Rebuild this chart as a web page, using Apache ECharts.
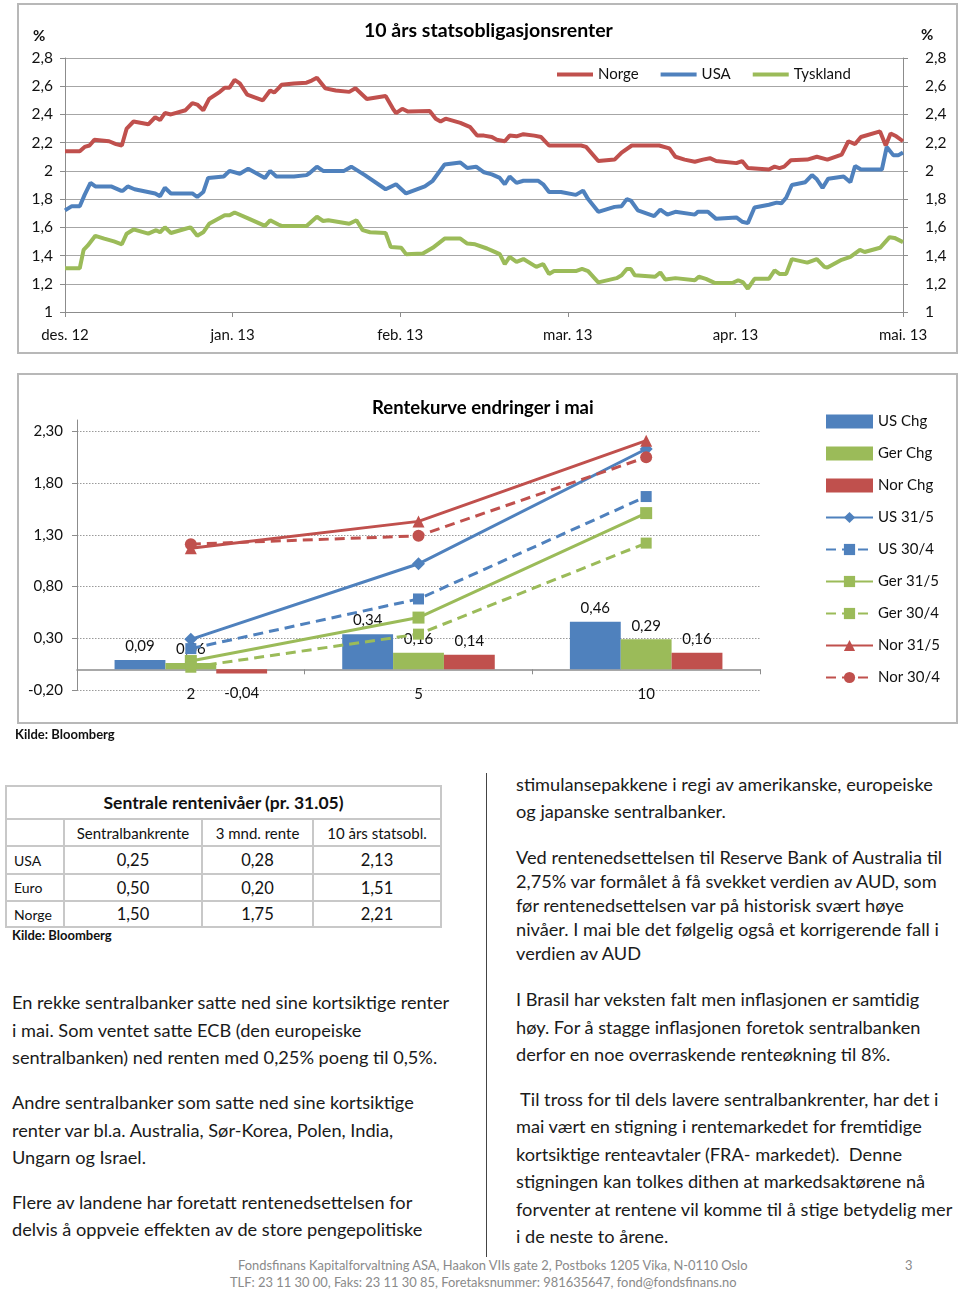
<!DOCTYPE html>
<html><head><meta charset="utf-8">
<script src="https://cdn.jsdelivr.net/npm/echarts@6/dist/echarts.min.js"></script>
<style>
body{margin:0;width:960px;height:1290px;background:#fff;position:relative;font-family:Lato,'Open Sans',sans-serif;color:#1a1a1a;overflow:hidden}
.box{position:absolute;border:2px solid #b8b8b8;box-sizing:border-box;pointer-events:none}
.p{position:absolute;white-space:nowrap;font-size:18.2px;color:#1a1a1a}
.src{position:absolute;font-size:13px;font-weight:bold;color:#111;white-space:nowrap}
.tbl{position:absolute;border-collapse:collapse;width:435px;table-layout:fixed}
.tbl td{border:2px solid #c8c8c8;text-align:center;padding:0;color:#111}
.tbl td.ttl{font-weight:bold;font-size:17.5px}
.tbl td.hd{font-size:15px}
.tbl td.lab{text-align:left;padding-left:7px;font-size:14px}
.tbl td.val{font-size:16.5px}
.foot{position:absolute;font-size:12.9px;color:#8a8a8a;white-space:nowrap}
</style></head>
<body>
<div id="c1" style="position:absolute;left:0;top:0;width:960px;height:360px"></div>
<div class="box" style="left:17px;top:3px;width:941px;height:351px"></div>
<div id="c2" style="position:absolute;left:0;top:370px;width:960px;height:360px"></div>
<div class="box" style="left:17px;top:373px;width:941px;height:351px"></div>
<div class="src" style="left:15px;top:726px">Kilde: Bloomberg</div>

<table class="tbl" id="tbl" style="left:5px;top:785px"></table>
<div class="src" style="left:12px;top:927px">Kilde: Bloomberg</div>

<div style="position:absolute;left:486px;top:773px;width:1px;height:484px;background:#444"></div>

<div class="p" style="left:12px;top:989px;line-height:27.5px">En rekke sentralbanker satte ned sine kortsiktige renter<br>i mai. Som ventet satte ECB (den europeiske<br>sentralbanken) ned renten med 0,25% poeng til 0,5%.</div>
<div class="p" style="left:12px;top:1089px;line-height:27.5px">Andre sentralbanker som satte ned sine kortsiktige<br>renter var bl.a. Australia, Sør-Korea, Polen, India,<br>Ungarn og Israel.</div>
<div class="p" style="left:12px;top:1189px;line-height:27px">Flere av landene har foretatt rentenedsettelsen for<br>delvis å oppveie effekten av de store pengepolitiske</div>

<div class="p" style="left:516px;top:771px;line-height:27px">stimulansepakkene i regi av amerikanske, europeiske<br>og japanske sentralbanker.</div>
<div class="p" style="left:516px;top:845px;line-height:24px">Ved rentenedsettelsen til Reserve Bank of Australia til<br>2,75% var formålet å få svekket verdien av AUD, som<br>før rentenedsettelsen var på historisk svært høye<br>nivåer. I mai ble det følgelig også et korrigerende fall i<br>verdien av AUD</div>
<div class="p" style="left:516px;top:986px;line-height:27.5px">I Brasil har veksten falt men inflasjonen er samtidig<br>høy. For å stagge inflasjonen foretok sentralbanken<br>derfor en noe overraskende renteøkning til 8%.</div>
<div class="p" style="left:516px;top:1086px;line-height:27.4px">&nbsp;Til tross for til dels lavere sentralbankrenter, har det i<br>mai vært en stigning i rentemarkedet for fremtidige<br>kortsiktige renteavtaler (FRA- markedet).&nbsp; Denne<br>stigningen kan tolkes dithen at markedsaktørene nå<br>forventer at rentene vil komme til å stige betydelig mer<br>i de neste to årene.</div>

<div class="foot" style="left:238px;top:1257px">Fondsfinans Kapitalforvaltning ASA, Haakon VIIs gate 2, Postboks 1205 Vika, N-0110 Oslo</div>
<div class="foot" style="left:230px;top:1274px">TLF: 23 11 30 00, Faks: 23 11 30 85, Foretaksnummer: 981635647, fond@fondsfinans.no</div>
<div class="foot" style="left:905px;top:1257px">3</div>

<script>
// ---------- Chart 1 data: [month position (0 = des. 12), yield %] ----------
const monthLabels = ['des. 12','jan. 13','feb. 13','mar. 13','apr. 13','mai. 13'];
const norge = [[0,2.14],[0.088,2.14],[0.117,2.17],[0.146,2.18],[0.175,2.22],[0.263,2.21],[0.304,2.19],[0.339,2.18],[0.368,2.30],[0.409,2.35],[0.497,2.33],[0.538,2.38],[0.567,2.36],[0.596,2.41],[0.632,2.40],[0.719,2.43],[0.760,2.48],[0.789,2.47],[0.825,2.43],[0.860,2.51],[0.924,2.56],[0.953,2.59],[0.982,2.59],[1.012,2.645],[1.043,2.62],[1.087,2.54],[1.180,2.50],[1.224,2.57],[1.248,2.555],[1.273,2.585],[1.292,2.61],[1.366,2.62],[1.441,2.625],[1.472,2.64],[1.503,2.66],[1.553,2.585],[1.615,2.57],[1.696,2.56],[1.733,2.585],[1.801,2.51],[1.913,2.53],[1.957,2.44],[1.975,2.41],[2.012,2.44],[2.047,2.42],[2.176,2.425],[2.212,2.37],[2.241,2.35],[2.271,2.37],[2.359,2.34],[2.418,2.31],[2.459,2.25],[2.500,2.25],[2.547,2.24],[2.576,2.22],[2.624,2.21],[2.653,2.25],[2.694,2.245],[2.735,2.26],[2.800,2.25],[2.841,2.24],[2.888,2.18],[3.079,2.18],[3.109,2.17],[3.182,2.07],[3.279,2.08],[3.321,2.13],[3.382,2.18],[3.545,2.18],[3.606,2.16],[3.642,2.10],[3.697,2.08],[3.758,2.065],[3.806,2.08],[3.848,2.09],[3.885,2.07],[4.006,2.055],[4.040,2.07],[4.074,2.02],[4.200,2.01],[4.234,2.03],[4.263,2.02],[4.291,2.03],[4.331,2.075],[4.429,2.08],[4.486,2.10],[4.549,2.08],[4.634,2.115],[4.674,2.21],[4.714,2.19],[4.749,2.24],[4.863,2.28],[4.897,2.18],[4.926,2.265],[4.960,2.245],[5.0,2.21]];
const usa = [[0,1.72],[0.041,1.75],[0.088,1.75],[0.117,1.83],[0.152,1.915],[0.181,1.89],[0.275,1.89],[0.333,1.86],[0.345,1.86],[0.374,1.89],[0.415,1.87],[0.538,1.84],[0.567,1.82],[0.596,1.88],[0.632,1.84],[0.760,1.84],[0.789,1.815],[0.825,1.85],[0.854,1.95],[0.947,1.96],[0.982,2.00],[1.043,1.98],[1.093,2.015],[1.193,1.95],[1.224,2.00],[1.261,1.96],[1.286,1.96],[1.366,1.96],[1.441,1.97],[1.460,1.985],[1.503,2.03],[1.540,2.00],[1.665,2.00],[1.708,2.03],[1.789,1.97],[1.913,1.87],[1.975,1.905],[2.035,1.84],[2.147,1.89],[2.194,1.93],[2.265,2.045],[2.359,2.06],[2.400,2.02],[2.453,2.03],[2.500,1.99],[2.547,1.975],[2.594,1.95],[2.624,1.905],[2.653,1.96],[2.694,1.915],[2.735,1.93],[2.824,1.93],[2.853,1.905],[2.888,1.85],[2.959,1.85],[3.048,1.83],[3.091,1.86],[3.121,1.80],[3.182,1.71],[3.279,1.745],[3.321,1.75],[3.352,1.80],[3.376,1.79],[3.418,1.72],[3.515,1.68],[3.552,1.725],[3.594,1.69],[3.642,1.71],[3.758,1.69],[3.776,1.71],[3.836,1.71],[3.885,1.66],[4.006,1.67],[4.040,1.64],[4.074,1.63],[4.114,1.74],[4.200,1.76],[4.246,1.775],[4.274,1.77],[4.303,1.81],[4.337,1.90],[4.417,1.92],[4.457,1.97],[4.486,1.94],[4.520,1.88],[4.554,1.945],[4.646,1.96],[4.686,1.92],[4.714,2.035],[4.749,2.01],[4.874,2.01],[4.903,2.17],[4.943,2.11],[4.971,2.11],[5.0,2.13]];
const tyskland = [[0,1.31],[0.088,1.31],[0.111,1.44],[0.135,1.47],[0.181,1.54],[0.234,1.52],[0.292,1.50],[0.339,1.48],[0.368,1.555],[0.409,1.585],[0.497,1.555],[0.544,1.58],[0.567,1.565],[0.596,1.60],[0.632,1.56],[0.719,1.59],[0.749,1.60],[0.789,1.54],[0.825,1.565],[0.860,1.625],[0.953,1.685],[0.982,1.685],[1.012,1.705],[1.099,1.66],[1.193,1.61],[1.224,1.65],[1.273,1.62],[1.292,1.61],[1.441,1.61],[1.503,1.675],[1.540,1.645],[1.571,1.65],[1.696,1.625],[1.739,1.65],[1.776,1.58],[1.820,1.565],[1.913,1.56],[1.944,1.46],[2.006,1.455],[2.035,1.41],[2.135,1.415],[2.194,1.455],[2.265,1.52],[2.359,1.52],[2.400,1.485],[2.447,1.48],[2.518,1.45],[2.547,1.435],[2.594,1.41],[2.624,1.34],[2.653,1.39],[2.694,1.355],[2.735,1.375],[2.812,1.32],[2.853,1.34],[2.888,1.27],[2.918,1.29],[3.048,1.29],[3.085,1.305],[3.121,1.29],[3.182,1.21],[3.291,1.24],[3.321,1.26],[3.352,1.305],[3.376,1.305],[3.400,1.26],[3.521,1.25],[3.552,1.28],[3.582,1.23],[3.642,1.24],[3.758,1.225],[3.782,1.25],[3.824,1.235],[3.879,1.205],[3.982,1.205],[4.017,1.225],[4.046,1.21],[4.074,1.165],[4.114,1.235],[4.200,1.235],[4.234,1.295],[4.263,1.27],[4.303,1.27],[4.337,1.375],[4.429,1.35],[4.486,1.375],[4.531,1.32],[4.549,1.315],[4.634,1.37],[4.686,1.39],[4.743,1.44],[4.771,1.425],[4.863,1.455],[4.920,1.53],[4.949,1.525],[5.0,1.495]];

// ---------- Chart 2 data ----------
const tenors = ['2','5','10'];
const usChg  = [0.09, 0.34, 0.46];
const gerChg = [0.06, 0.16, 0.29];
const norChg = [-0.04, 0.14, 0.16];
const us315  = [0.29, 1.02, 2.13];
const us304  = [0.20, 0.68, 1.67];
const ger315 = [0.08, 0.50, 1.51];
const ger304 = [0.02, 0.34, 1.22];
const nor315 = [1.17, 1.43, 2.21];
const nor304 = [1.21, 1.29, 2.05];

// ---------- Table data ----------
const tblCols = ['Sentralbankrente','3 mnd. rente','10 års statsobl.'];
const tblRows = ['USA','Euro','Norge'];
const tblVals = [['0,25','0,28','2,13'],['0,50','0,20','1,51'],['1,50','1,75','2,21']];

const BLUE='#4F81BD', GREEN='#9BBB59', RED='#C0504D', AX='#8c8c8c', TXT='#111';
const FF = 'Lato';

// Table
(function(){
  const t = document.getElementById('tbl');
  let h = '<colgroup><col style="width:58px"><col style="width:138px"><col style="width:111px"><col style="width:128px"></colgroup>';
  h += '<tr style="height:33px"><td colspan="4" class="ttl">Sentrale rentenivåer (pr. 31.05)</td></tr>';
  h += '<tr style="height:27px"><td></td>' + tblCols.map(c=>'<td class="hd">'+c+'</td>').join('') + '</tr>';
  const hs=[28,27,26];
  tblRows.forEach((r,i)=>{ h += '<tr style="height:'+hs[i]+'px"><td class="lab">'+r+'</td>' + tblVals[i].map(v=>'<td class="val">'+v+'</td>').join('') + '</tr>'; });
  t.innerHTML = h;
})();

// Chart 1
const fmt1 = v => String(Math.round(v*10)/10).replace('.', ',');
const c1 = echarts.init(document.getElementById('c1'), null, {renderer:'canvas'});
const lineS = (name, data, color) => ({name, type:'line', data, showSymbol:false, symbol:'none', lineStyle:{width:4, color}, itemStyle:{color}, z:3});
c1.setOption({
  animation:false,
  textStyle:{fontFamily:FF},
  title:{text:'10 års statsobligasjonsrenter', left:359, top:16, textStyle:{fontFamily:FF, fontWeight:'bold', fontSize:19.5, color:'#000'}},
  legend:{left:557, top:67, itemWidth:36, itemHeight:4, itemGap:22, icon:'rect', padding:0, textStyle:{fontSize:15,color:TXT,fontFamily:FF}, data:['Norge','USA','Tyskland']},
  grid:{left:65, right:57, top:58, bottom:48},
  xAxis:{type:'value', min:0, max:5, interval:1,
    axisLine:{onZero:false, lineStyle:{color:AX}}, axisTick:{show:true, length:5, lineStyle:{color:AX}},
    splitLine:{show:false},
    axisLabel:{formatter:v=>monthLabels[Math.round(v)], margin:16, fontSize:15, color:TXT, fontFamily:FF}},
  yAxis:[
    {type:'value', min:1, max:2.8, interval:0.2, position:'left',
     axisLine:{show:true, onZero:false, lineStyle:{color:AX}}, axisTick:{show:true, length:5, lineStyle:{color:AX}},
     splitLine:{show:true, lineStyle:{color:'#a6a6a6', width:1}},
     axisLabel:{formatter:fmt1, margin:12, fontSize:15.5, color:TXT, fontFamily:FF}},
    {type:'value', min:1, max:2.8, interval:0.2, position:'right',
     axisLine:{show:true, onZero:false, lineStyle:{color:AX}}, axisTick:{show:true, length:5, lineStyle:{color:AX}},
     splitLine:{show:false},
     axisLabel:{formatter:fmt1, margin:22, fontSize:15.5, color:TXT, fontFamily:FF}}
  ],
  graphic:[
    {type:'text', left:33, top:29, style:{text:'%', fontSize:15, fontWeight:'bold', fill:TXT, fontFamily:FF}},
    {type:'text', left:921, top:28, style:{text:'%', fontSize:15, fontWeight:'bold', fill:TXT, fontFamily:FF}}
  ],
  series:[lineS('Norge', norge, RED), lineS('USA', usa, BLUE), lineS('Tyskland', tyskland, GREEN)]
});

// Chart 2
const fmt2 = v => (Math.round(v*100)/100).toFixed(2).replace('.', ',');
const c2 = echarts.init(document.getElementById('c2'), null, {renderer:'canvas'});
const barS = (name, vals, color) => ({
  name, type:'bar', xAxisIndex:0, yAxisIndex:0, barGap:'0%', barCategoryGap:'33%', itemStyle:{color}, z:2,
  data: vals.map(v => v < 0 ? {value:v, label:{position:'bottom', distance:12}} : v),
  label:{show:true, position:'top', distance:6, formatter:p=>fmt2(p.value), fontSize:15, color:TXT, fontFamily:FF}
});
const lnS = (name, vals, color, symbol, size, dashed) => ({
  name, type:'line', xAxisIndex:0, yAxisIndex:0, data:vals, symbol, symbolSize:size, z:4,
  lineStyle:{width:3, color, type: dashed ? [10,6] : 'solid'}, itemStyle:{color}
});
c2.setOption({
  animation:false,
  textStyle:{fontFamily:FF},
  title:{text:'Rentekurve endringer i mai', left:367, top:24, textStyle:{fontFamily:FF, fontWeight:'bold', fontSize:18.5, color:'#000'}},
  legend:{orient:'vertical', left:825, top:44, itemWidth:47, itemHeight:14, itemGap:17, padding:0,
    textStyle:{fontSize:15, color:TXT, fontFamily:FF, lineHeight:14, height:14},
    data:[{name:'US Chg',icon:'rect'},{name:'Ger Chg',icon:'rect'},{name:'Nor Chg',icon:'rect'},'US 31/5','US 30/4','Ger 31/5','Ger 30/4','Nor 31/5','Nor 30/4']},
  grid:{left:77, right:200, top:50, bottom:40},
  xAxis:[
    {type:'category', data:tenors, position:'bottom', axisLine:{show:false, onZero:false}, axisTick:{show:false},
     axisLabel:{margin:-3, fontSize:15, color:TXT, fontFamily:FF}},
    {type:'category', data:tenors, position:'top', axisLine:{show:true, onZero:true, lineStyle:{color:AX, width:1.5}},
     axisTick:{show:true, inside:true, length:5, lineStyle:{color:AX}}, axisLabel:{show:false}}
  ],
  yAxis:{type:'value', min:-0.2, max:2.41, interval:0.5,
    axisLine:{show:true, lineStyle:{color:AX}}, axisTick:{show:true, length:5, lineStyle:{color:AX}},
    splitLine:{show:true, showMaxLine:false, lineStyle:{color:'#9a9a9a', type:[1.5,1.5], width:1}},
    axisLabel:{formatter:fmt2, showMaxLabel:false, margin:14, fontSize:15, color:TXT, fontFamily:FF}},
  series:[
    barS('US Chg', usChg, BLUE), barS('Ger Chg', gerChg, GREEN), barS('Nor Chg', norChg, RED),
    lnS('US 31/5', us315, BLUE, 'diamond', 13, false),
    lnS('US 30/4', us304, BLUE, 'rect', 11, true),
    lnS('Ger 31/5', ger315, GREEN, 'rect', 12, false),
    lnS('Ger 30/4', ger304, GREEN, 'rect', 11, true),
    lnS('Nor 31/5', nor315, RED, 'triangle', 12, false),
    lnS('Nor 30/4', nor304, RED, 'circle', 12, true)
  ]
});
</script>
</body></html>
